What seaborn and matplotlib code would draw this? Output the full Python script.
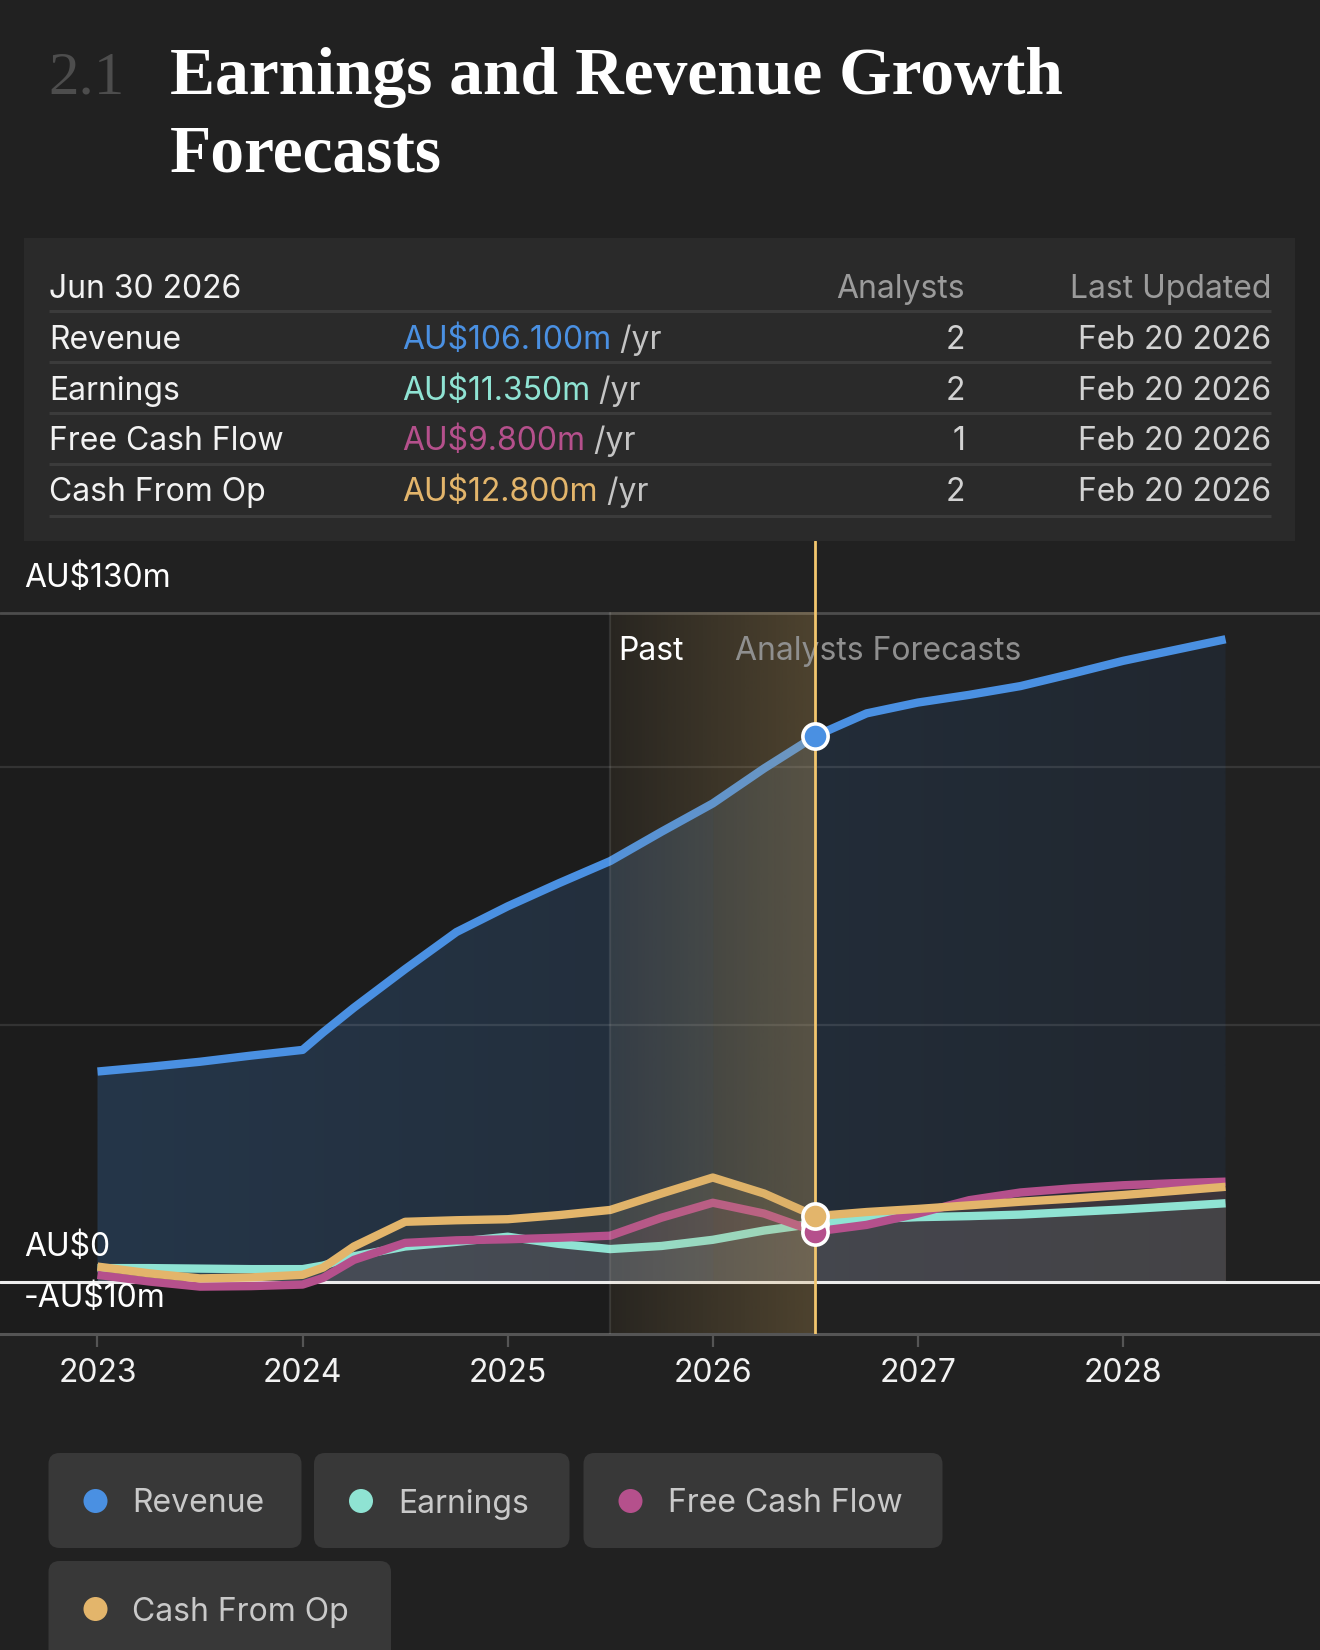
import numpy as np
import pandas as pd
import matplotlib
matplotlib.use("Agg")
import matplotlib.pyplot as plt
import matplotlib.transforms as mtransforms
from matplotlib.colors import to_rgb
from matplotlib.patches import FancyBboxPatch, Rectangle, Circle
import seaborn as sns

# ---- data ----
years = [2023.0, 2023.25, 2023.5, 2023.75, 2024.0, 2024.1, 2024.25, 2024.5, 2024.75,
         2025.0, 2025.25, 2025.5, 2025.75, 2026.0, 2026.25, 2026.5, 2026.75, 2027.0,
         2027.25, 2027.5, 2027.75, 2028.0, 2028.25, 2028.5]
revenue = [40.9, 41.8, 42.8, 44.0, 45.1, 48.5, 53.3, 60.8, 68.0,
           73.0, 77.5, 81.8, 87.5, 93.0, 99.8, 106.1, 110.5, 112.6,
           114.1, 115.8, 118.2, 120.7, 122.8, 124.9]
earnings = [2.7, 2.7, 2.6, 2.5, 2.5, 3.2, 5.0, 6.9, 7.8,
            8.8, 7.4, 6.4, 7.0, 8.2, 10.0, 11.35, 12.2, 12.6,
            12.8, 13.1, 13.6, 14.1, 14.7, 15.3]
free_cash_flow = [1.4, 0.1, -0.9, -0.8, -0.5, 0.8, 4.3, 7.6, 8.1,
                  8.3, 8.6, 9.0, 12.5, 15.4, 13.3, 9.8, 11.1, 13.3,
                  15.9, 17.4, 18.2, 18.8, 19.2, 19.5]
cash_from_op = [3.0, 1.7, 0.7, 0.9, 1.4, 2.8, 6.9, 11.7, 12.0,
                12.2, 13.0, 14.0, 17.2, 20.3, 17.2, 12.8, 13.6, 14.2,
                14.9, 15.6, 16.2, 16.9, 17.7, 18.5]

series_names = ["Revenue", "Earnings", "Free Cash Flow", "Cash From Op"]
series_colors = ["#4a90e2", "#8fe3d3", "#b5508c", "#e3b56b"]
table_date = "Jun 30 2026"
table_values = ["AU$106.100m", "AU$11.350m", "AU$9.800m", "AU$12.800m"]
table_analysts = ["2", "2", "1", "2"]
table_updated = ["Feb 20 2026", "Feb 20 2026", "Feb 20 2026", "Feb 20 2026"]
tick_years = [2023, 2024, 2025, 2026, 2027, 2028]
y_label_values = [130, 0, -10]
y_label_texts = ["AU$130m", "AU$0", "-AU$10m"]
grid_values = [50, 100]
now_year = 2026.5
past_start = 2025.5
hover_end = 2026.0

BG = "#212121"
sns.set_theme(style="dark", rc={"figure.facecolor": BG, "axes.facecolor": BG,
                                "savefig.facecolor": BG})
plt.rcParams["font.family"] = ["Inter", "DejaVu Sans"]

W, H = 1320, 1650
fig = plt.figure(figsize=(W / 100, H / 100), dpi=100)

# overlay axes in pixel coordinates for the header, table and legend
over = fig.add_axes([0, 0, 1, 1])
over.set_xlim(0, W)
over.set_ylim(H, 0)
over.axis("off")

# title
serif = "Liberation Serif"
over.text(48, 94, "2.1", family=serif, fontsize=44, color="#4d4d4d", va="baseline")
over.text(170, 94, "Earnings and Revenue Growth", family=serif, fontsize=48.6,
          weight="bold", color="white", va="baseline")
over.text(170, 172, "Forecasts", family=serif, fontsize=48.6, weight="bold",
          color="white", va="baseline")

# table panel
over.add_patch(Rectangle((24, 238), 1271, 303, color="#2a2a2a", lw=0))
fs = 23
over.text(49, 298, table_date, fontsize=fs, color="#f2f2f2", va="baseline")
over.text(965, 298, "Analysts", fontsize=fs, color="#9b9b9b", va="baseline", ha="right")
over.text(1271, 298, "Last Updated", fontsize=fs, color="#9b9b9b", va="baseline", ha="right")
for yy in [311, 362, 413, 464, 516]:
    over.plot([49, 1271], [yy, yy], color="#3b3b3b", lw=2.2, solid_capstyle="butt")
for i, name in enumerate(series_names):
    base = 349 + i * 50.7
    over.text(49, base, name, fontsize=fs, color="#f2f2f2", va="baseline")
    vt = over.text(402, base, table_values[i], fontsize=fs, color=series_colors[i],
                   va="baseline")
    over.annotate(" /yr", xy=(1, 0), xycoords=vt, fontsize=fs, color="#c4c4c4",
                  va="bottom", ha="left")
    over.text(965, base, table_analysts[i], fontsize=fs, color="#d2d2d2",
              va="baseline", ha="right")
    over.text(1271, base, table_updated[i], fontsize=fs, color="#d2d2d2",
              va="baseline", ha="right")

# legend pills
pills = [(48.5, 1453, 253, 95), (314, 1453, 255.5, 95), (583.5, 1453, 359, 95),
         (48.5, 1561, 342.5, 110)]
for (px, py, pw, ph), name, col in zip(pills, series_names, series_colors):
    over.add_patch(FancyBboxPatch((px, py), pw, ph, boxstyle="round,pad=0,rounding_size=11",
                                  fc="#383838", ec="none"))
    cy = py + 48
    over.add_patch(Circle((px + 47, cy), 12, color=col, lw=0))
    over.text(px + 84, cy + 11.5, name, fontsize=fs, color="#c9c9c9", va="baseline")

# ---- chart axes ----
x0_px, px_per_year = 97.5, 205.1
y0_px, px_per_m = 1282, 5.146
top_px, bot_px = 541, 1333.5
xlim = (2023 - x0_px / px_per_year, 2023 + (W - x0_px) / px_per_year)
ylim = ((y0_px - bot_px) / px_per_m, (y0_px - top_px) / px_per_m)
ax = fig.add_axes([0, (H - bot_px) / H, 1, (bot_px - top_px) / H])
ax.set_facecolor(BG)

df = pd.DataFrame({"year": years, "Revenue": revenue, "Earnings": earnings,
                   "Free Cash Flow": free_cash_flow, "Cash From Op": cash_from_op})
long_df = df.melt(id_vars="year", var_name="series", value_name="value")
x = np.array(years)

# darker past background
ax.fill_between([xlim[0], now_year], -10, 130, color="#1c1c1c", lw=0, zorder=0)

# revenue area with horizontal gradient
poly = ax.fill_between(x, 0, df["Revenue"], color="none", lw=0)
g = np.linspace(0, 1, 256)[:, None]
img = np.array(to_rgb("#253649"))[None, :] * (1 - g) + np.array(to_rgb("#21272f"))[None, :] * g
im = ax.imshow(img[None, :, :], extent=[x[0], x[-1], 0, 130], aspect="auto",
               interpolation="bilinear", zorder=1)
im.set_clip_path(poly.get_paths()[0], ax.transData)

# small series areas
for name, col in zip(series_names[1:], series_colors[1:]):
    ax.fill_between(x, 0, df[name], color=col, alpha=0.085, lw=0, zorder=2)

# hovered year highlight inside the area
hover = (x >= past_start) & (x <= hover_end)
ax.fill_between(x, 0, df["Revenue"], where=hover, color="#9fc4e0", alpha=0.05, lw=0, zorder=2.5)
olive = (x >= hover_end) & (x <= now_year)
ax.fill_between(x, 0, df["Revenue"], where=olive, color="#c8b070", alpha=0.05, lw=0, zorder=2.5)

# grid lines
for gv in grid_values:
    ax.axhline(gv, color="white", alpha=0.1, lw=1.6, zorder=3)
ax.axhline(130, color="#4d4d4d", lw=2, zorder=3)
ax.axhline(0, color="#ececec", lw=2.2, zorder=4)

# series lines
sns.lineplot(data=long_df, x="year", y="value", hue="series", hue_order=series_names,
             palette=dict(zip(series_names, series_colors)), lw=6, legend=False,
             ax=ax, zorder=5, solid_capstyle="butt", solid_joinstyle="round")

# past band gradient overlay
band_rgb = np.array(to_rgb("#d0a860"))
a = np.linspace(0.07, 0.28, 256)
band = np.zeros((1, 256, 4))
band[0, :, :3] = band_rgb
band[0, :, 3] = a
ax.imshow(band, extent=[past_start, now_year, -10, 130], aspect="auto",
          interpolation="bilinear", zorder=6)
ax.plot([past_start, past_start], [-10, 130], color="white", alpha=0.1, lw=1.6, zorder=6)

ax.text(2025.86, 120.9, "Past", fontsize=fs, color="white", ha="right",
        va="baseline", zorder=6.5)
ax.text(2026.108, 120.9, "Analysts Forecasts", fontsize=fs, color="#8f8f8f", ha="left",
        va="baseline", zorder=6.5)

# current date line and markers
ax.axvline(now_year, color="#f2c66e", lw=2, zorder=7)
i_now = years.index(now_year)
for name, col in zip(series_names, series_colors):
    ax.scatter([now_year], [df[name][i_now]], s=330, color=col, edgecolor="white",
               linewidth=2.6, zorder=8)

# y labels
ytrans = mtransforms.blended_transform_factory(ax.transAxes, ax.transData)
for v, t in zip(y_label_values, y_label_texts):
    ax.text(24 / W, v + 5.05, t, transform=ytrans, fontsize=fs, color="white",
            va="baseline", ha="left", zorder=9)

ax.set_xlim(*xlim)
ax.set_ylim(*ylim)
ax.set_xticks(tick_years)
ax.set_xticklabels([str(t) for t in tick_years])
ax.set_yticks([])
ax.set_xlabel("")
ax.set_ylabel("")
ax.tick_params(axis="x", bottom=True, length=9, width=1.6, color="#555555", pad=9,
               labelsize=fs, labelcolor="#f2f2f2")
for s in ["top", "left", "right"]:
    ax.spines[s].set_visible(False)
ax.spines["bottom"].set_color("#555555")
ax.spines["bottom"].set_linewidth(2.2)
ax.grid(False)

fig.savefig("out.png", dpi=100, facecolor=BG)
